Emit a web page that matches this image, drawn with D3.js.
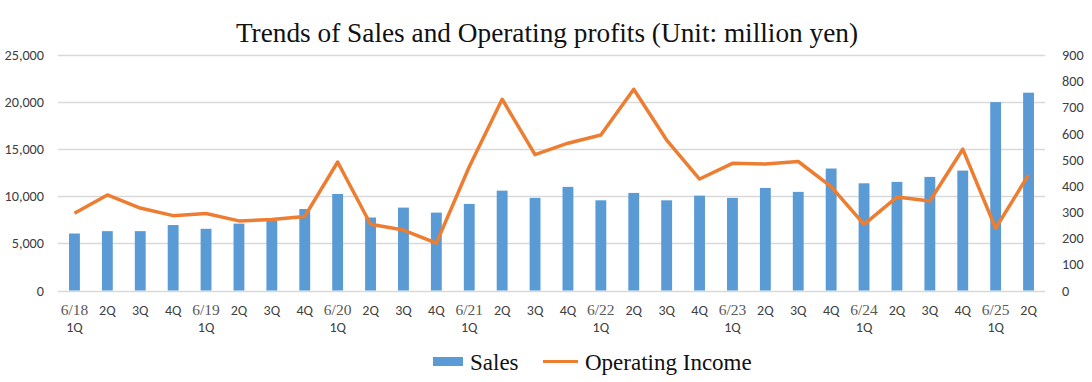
<!DOCTYPE html>
<html><head><meta charset="utf-8">
<script src="https://cdn.jsdelivr.net/npm/d3@7"></script>
<style>body{margin:0;background:#fff}svg{display:block}</style>
</head><body><svg id="c" width="1092" height="382"></svg>
<script>
const categories = ["6/18|1Q","2Q","3Q","4Q","6/19|1Q","2Q","3Q","4Q","6/20|1Q","2Q","3Q","4Q","6/21|1Q","2Q","3Q","4Q","6/22|1Q","2Q","3Q","4Q","6/23|1Q","2Q","3Q","4Q","6/24|1Q","2Q","3Q","4Q","6/25|1Q","2Q"];
const sales = [6050,6300,6300,6950,6550,7100,7400,8650,10250,7750,8800,8270,9190,10600,9830,11000,9575,10360,9575,10070,9830,10890,10470,12950,11380,11530,12060,12730,20000,21000];
const operatingIncome = [295,365,315,286,294,266,271,283,491,253,231,181,473,731,519,563,594,769,575,426,486,483,493,397,253,357,342,540,238,442];
const leftTicks = [0,5000,10000,15000,20000,25000];
const rightTicks = [0,100,200,300,400,500,600,700,800,900];
const title = "Trends of Sales and Operating profits (Unit: million yen)";

const svg = d3.select("#c");
const m = {l:58, r:1045, t:55, b:290.5};
const x = d3.scaleBand().domain(d3.range(categories.length)).range([m.l, m.r]).paddingInner(0.67).paddingOuter(0.335);
const yL = d3.scaleLinear().domain([0,25000]).range([m.b, m.t]);
const yR = d3.scaleLinear().domain([0,900]).range([m.b, m.t]);
const sans = "Carlito, Calibri, 'Open Sans', 'DejaVu Sans', sans-serif";
const serif = "'Liberation Serif', 'Times New Roman', serif";

svg.append("text").attr("x",547).attr("y",42).attr("text-anchor","middle")
  .attr("font-family",serif).attr("font-size",27.3).attr("fill","#111").text(title);

// gridlines
svg.append("g").selectAll("line").data(leftTicks).join("line")
  .attr("x1",m.l).attr("x2",m.r).attr("y1",d=>Math.round(yL(d))+0.5).attr("y2",d=>Math.round(yL(d))+0.5)
  .attr("stroke","#d9d9d9").attr("stroke-width",1.3);

// left axis
const gl = svg.append("g").attr("transform",`translate(${m.l-14},0)`)
  .call(d3.axisLeft(yL).tickValues(leftTicks).tickSize(0).tickPadding(0).tickFormat(d3.format(",")));
gl.select(".domain").remove();
gl.selectAll("text").attr("font-family",sans).attr("font-size",14.2).attr("fill","#404040");

// right axis
const gr = svg.append("g").attr("transform",`translate(${m.r+17},0)`)
  .call(d3.axisRight(yR).tickValues(rightTicks).tickSize(0).tickPadding(0));
gr.select(".domain").remove();
gr.selectAll("text").attr("font-family",sans).attr("font-size",14.2).attr("fill","#404040");

// bars
svg.append("g").selectAll("rect").data(sales).join("rect")
  .attr("x",(d,i)=>x(i)).attr("width",x.bandwidth())
  .attr("y",d=>yL(d)).attr("height",d=>yL(0)-yL(d)).attr("fill","#5b9bd5");

// line
const cx = i => x(i)+x.bandwidth()/2;
svg.append("path").datum(operatingIncome)
  .attr("d", d3.line().x((d,i)=>cx(i)).y(d=>yR(d)))
  .attr("fill","none").attr("stroke","#ed7d31").attr("stroke-width",3.5).attr("stroke-linejoin","round");

// x labels
const xl = svg.append("g");
categories.forEach((c,i)=>{
  const parts = c.split("|");
  if (parts.length === 2) {
    xl.append("text").attr("x",cx(i)).attr("y",315).attr("text-anchor","middle")
      .attr("font-family",serif).attr("font-size",15.5).attr("fill","#595959").text(parts[0]);
    xl.append("text").attr("x",cx(i)).attr("y",332).attr("text-anchor","middle")
      .attr("font-family",sans).attr("font-size",14).attr("fill","#404040").text(parts[1]);
  } else {
    xl.append("text").attr("x",cx(i)).attr("y",315).attr("text-anchor","middle")
      .attr("font-family",sans).attr("font-size",14).attr("fill","#404040").text(parts[0]);
  }
});

// legend
const lg = svg.append("g");
lg.append("rect").attr("x",433).attr("y",357).attr("width",30).attr("height",9).attr("fill","#5b9bd5");
lg.append("text").attr("x",470).attr("y",370).attr("font-family",serif).attr("font-size",23).attr("fill","#111").text("Sales");
lg.append("line").attr("x1",543).attr("x2",578).attr("y1",361.5).attr("y2",361.5).attr("stroke","#ed7d31").attr("stroke-width",3);
lg.append("text").attr("x",585).attr("y",370).attr("font-family",serif).attr("font-size",23).attr("fill","#111").text("Operating Income");
</script></body></html>
